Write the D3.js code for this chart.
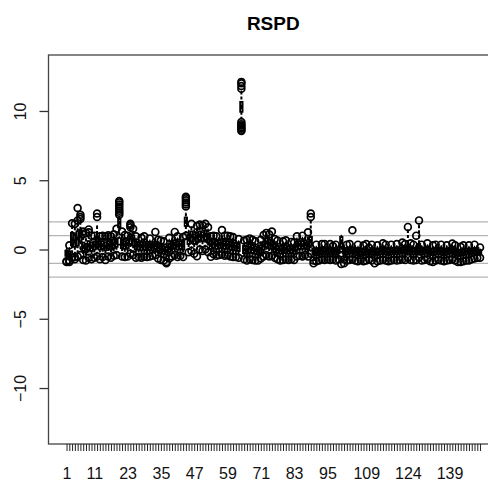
<!DOCTYPE html>
<html>
<head>
<meta charset="utf-8">
<script src="https://cdn.jsdelivr.net/npm/d3@7/dist/d3.min.js"></script>
<style>
  body { margin: 0; background: #fff; }
  svg { display: block; font-family: "Liberation Sans", Arial, sans-serif; }
</style>
</head>
<body>
<div id="chart"></div>
<script>
// boxplot statistics per category (1..150)
var whiskerLow = [
  -0.7, -0.75, -0.3, -0.4, -0.2, 0.0, -0.5, -0.6, -0.4, -0.5,
  -0.4, -0.3, -0.45, -0.4, -0.5, -0.35, -0.4, -0.3, -0.2, 0.9,
  -0.3, -0.35, -0.3, -0.1, -0.2, -0.4, -0.35, -0.4, -0.3, -0.35,
  -0.3, -0.3, -0.25, -0.4, -0.55, -0.6, -0.7, -0.5, -0.3, -0.2,
  -0.35, -0.3, -0.4, 1.2, 0.0, 0.1, -0.1, 0.0, 0.2, 0.1,
  0.2, 0.0, -0.3, -0.2, -0.3, -0.25, -0.2, -0.3, -0.25, -0.35,
  -0.4, -0.35, -0.4, 9.45, -0.55, -0.6, -0.5, -0.55, -0.6, -0.6,
  -0.45, -0.3, -0.2, -0.3, -0.25, -0.45, -0.55, -0.6, -0.55, -0.5,
  -0.55, -0.5, -0.55, -0.3, -0.25, -0.3, -0.2, -0.3, -0.1, -0.6,
  -0.65, -0.6, -0.55, -0.6, -0.55, -0.6, -0.55, -0.6, -0.5, -0.2,
  -0.55, -0.6, -0.55, -0.5, -0.6, -0.65, -0.6, -0.65, -0.6, -0.55,
  -0.6, -0.7, -0.65, -0.6, -0.55, -0.6, -0.65, -0.6, -0.55, -0.6,
  -0.55, -0.5, -0.55, -0.4, -0.55, -0.6, -0.55, -0.4, -0.6, -0.55,
  -0.5, -0.6, -0.65, -0.6, -0.55, -0.6, -0.65, -0.6, -0.55, -0.5,
  -0.6, -0.7, -0.7, -0.65, -0.6, -0.6, -0.55, -0.5, -0.5, -0.45
];
var q1 = [
  -0.45, -0.5, 0.3, 0.2, 0.3, 0.6, -0.1, -0.2, 0.0, -0.1,
  0.0, 0.2, 0.0, 0.05, -0.05, 0.1, 0.0, 0.1, 0.2, 1.6,
  0.1, 0.05, 0.1, 0.4, 0.3, 0.0, 0.0, -0.05, 0.0, -0.05,
  0.0, -0.05, 0.05, -0.1, -0.25, -0.3, -0.35, -0.15, 0.05, 0.1,
  0.0, 0.05, 0.0, 1.7, 0.4, 0.6, 0.4, 0.5, 0.7, 0.6,
  0.7, 0.5, 0.05, 0.15, 0.05, 0.1, 0.15, 0.05, 0.1, 0.0,
  -0.05, -0.05, -0.1, 9.95, -0.25, -0.3, -0.2, -0.25, -0.3, -0.35,
  -0.2, 0.0, 0.2, 0.1, 0.05, -0.15, -0.25, -0.3, -0.25, -0.2,
  -0.3, -0.25, -0.3, 0.0, 0.05, 0.05, 0.1, 0.0, 0.3, -0.35,
  -0.4, -0.35, -0.3, -0.35, -0.3, -0.35, -0.3, -0.35, -0.25, 0.2,
  -0.3, -0.35, -0.3, -0.25, -0.35, -0.4, -0.35, -0.4, -0.35, -0.3,
  -0.35, -0.45, -0.4, -0.35, -0.3, -0.35, -0.4, -0.35, -0.3, -0.35,
  -0.3, -0.25, -0.3, -0.1, -0.3, -0.35, -0.3, -0.1, -0.35, -0.3,
  -0.25, -0.35, -0.4, -0.35, -0.3, -0.35, -0.4, -0.35, -0.3, -0.25,
  -0.35, -0.45, -0.45, -0.4, -0.35, -0.35, -0.3, -0.3, -0.25, -0.3
];
var median = [
  -0.3, -0.35, 0.7, 0.6, 0.8, 1.0, 0.2, 0.1, 0.3, 0.2,
  0.3, 0.5, 0.3, 0.3, 0.2, 0.35, 0.3, 0.4, 0.5, 1.95,
  0.4, 0.35, 0.4, 0.8, 0.7, 0.3, 0.3, 0.25, 0.3, 0.2,
  0.25, 0.2, 0.3, 0.15, 0.0, -0.05, -0.1, 0.1, 0.3, 0.4,
  0.3, 0.35, 0.3, 2.0, 0.75, 0.95, 0.8, 0.9, 1.0, 0.95,
  1.05, 0.85, 0.35, 0.45, 0.35, 0.4, 0.45, 0.35, 0.35, 0.3,
  0.25, 0.2, 0.15, 10.3, 0.0, -0.05, 0.1, 0.05, -0.05, -0.1,
  0.05, 0.3, 0.5, 0.4, 0.35, 0.1, 0.0, -0.05, 0.0, 0.05,
  -0.05, 0.0, -0.05, 0.3, 0.35, 0.3, 0.4, 0.3, 0.6, -0.15,
  -0.2, -0.15, -0.1, -0.15, -0.1, -0.15, -0.1, -0.15, -0.05, 0.55,
  -0.1, -0.15, -0.1, -0.05, -0.15, -0.2, -0.15, -0.2, -0.15, -0.1,
  -0.15, -0.25, -0.2, -0.15, -0.1, -0.15, -0.2, -0.15, -0.1, -0.15,
  -0.1, -0.05, -0.1, 0.1, -0.1, -0.15, -0.1, 0.15, -0.15, -0.1,
  -0.05, -0.15, -0.2, -0.15, -0.1, -0.15, -0.2, -0.15, -0.1, -0.05,
  -0.15, -0.25, -0.25, -0.2, -0.15, -0.15, -0.1, -0.1, -0.05, -0.15
];
var q3 = [
  -0.1, -0.15, 1.2, 1.0, 1.3, 1.4, 0.5, 0.4, 0.6, 0.5,
  0.55, 0.9, 0.55, 0.6, 0.5, 0.6, 0.55, 0.7, 0.8, 2.2,
  0.7, 0.6, 0.65, 1.1, 1.0, 0.55, 0.5, 0.5, 0.55, 0.45,
  0.45, 0.4, 0.55, 0.35, 0.25, 0.2, 0.15, 0.4, 0.55, 0.65,
  0.55, 0.6, 0.55, 2.3, 1.05, 1.3, 1.1, 1.25, 1.3, 1.25,
  1.35, 1.15, 0.6, 0.7, 0.6, 0.65, 0.75, 0.6, 0.6, 0.55,
  0.5, 0.45, 0.4, 10.65, 0.25, 0.25, 0.4, 0.3, 0.2, 0.15,
  0.3, 0.55, 0.8, 0.7, 0.65, 0.35, 0.25, 0.2, 0.25, 0.3,
  0.2, 0.2, 0.15, 0.55, 0.6, 0.6, 0.65, 0.6, 0.9, 0.05,
  0.0, 0.05, 0.1, 0.05, 0.1, 0.05, 0.05, 0.05, 0.15, 0.9,
  0.1, 0.05, 0.05, 0.15, 0.05, 0.0, 0.05, 0.0, 0.05, 0.0,
  0.05, -0.05, 0.0, 0.05, 0.1, 0.05, 0.0, 0.05, 0.1, 0.05,
  0.1, 0.15, 0.1, 0.3, 0.1, 0.05, 0.1, 0.4, 0.05, 0.1,
  0.15, 0.05, 0.0, 0.05, 0.1, 0.05, 0.0, 0.05, 0.1, 0.15,
  0.05, -0.05, -0.05, 0.0, 0.05, 0.0, 0.05, 0.05, 0.1, -0.05
];
var whiskerHigh = [
  0.05, 0.1, 1.7, 1.6, 1.9, 2.0, 0.9, 0.8, 1.0, 0.8,
  0.85, 1.7, 0.8, 0.85, 0.8, 0.8, 0.8, 0.95, 1.2, 2.35,
  1.0, 0.9, 0.9, 1.45, 1.3, 0.8, 0.75, 0.7, 0.8, 0.7,
  0.65, 0.6, 0.8, 0.55, 0.5, 0.45, 0.4, 0.7, 0.8, 0.9,
  0.8, 0.85, 0.75, 2.6, 1.35, 1.6, 1.4, 1.55, 1.6, 1.55,
  1.65, 1.45, 0.8, 0.9, 0.8, 0.85, 1.0, 0.85, 0.8, 0.8,
  0.75, 0.7, 0.6, 11.4, 0.5, 0.55, 0.65, 0.55, 0.45, 0.35,
  0.55, 0.85, 1.0, 0.95, 0.9, 0.6, 0.5, 0.45, 0.5, 0.5,
  0.4, 0.4, 0.35, 0.8, 0.85, 0.85, 0.9, 0.9, 2.1, 0.25,
  0.2, 0.3, 0.3, 0.25, 0.3, 0.25, 0.15, 0.25, 0.3, 1.0,
  0.3, 0.2, 0.25, 0.35, 0.25, 0.2, 0.25, 0.2, 0.25, 0.0,
  0.25, 0.15, 0.2, 0.25, 0.3, 0.25, 0.2, 0.25, 0.3, 0.25,
  0.3, 0.35, 0.3, 1.4, 0.3, 0.25, 0.3, 1.75, 0.25, 0.3,
  0.3, 0.25, 0.2, 0.25, 0.3, 0.25, 0.2, 0.25, 0.3, 0.3,
  0.25, 0.15, 0.1, 0.2, 0.2, 0.2, 0.25, 0.2, 0.25, 0.0
];
var outliers = [
  [-0.85, -0.9], [-0.9, 0.3, -0.8], [1.9, -0.6], [1.85, -0.7, -0.55], [3.0, -0.5, 2.1],
  [2.2, 2.35, 2.5, -0.4], [1.3, -0.75, 1.1], [1.2, -0.8], [1.45, 1.25, -0.6], [-0.7, 1.0],
  [-0.6, 1.0], [2.35, 2.6, -0.5], [-0.7, 0.95], [-0.55, 1.0], [-0.75, 0.95],
  [1.03, -0.5], [-0.6, 0.95], [-0.45, 1.1], [1.5, -0.4], [2.5, 2.65, 2.8, 2.95, 3.1, 3.25, 3.4, 3.5, 0.6],
  [1.3, -0.5], [-0.55, 1.05], [-0.5, 1.0], [1.6, 1.75, 1.85, -0.3], [1.5, -0.4],
  [-0.6, 0.95], [-0.55], [-0.6, 0.85], [-0.5, 0.95], [-0.55],
  [-0.5, 0.8], [-0.45], [1.27, -0.4], [-0.65, 0.7], [-0.75, 0.65],
  [-0.8, 0.6], [-0.9, -1.0], [-0.65, 0.85], [-0.5], [1.27, -0.4],
  [-0.55, 0.95], [-0.45], [-0.55, 0.9], [3.1, 3.25, 3.4, 3.55, 3.7, 3.8, 1.0], [-0.2],
  [1.85, -0.1], [-0.3], [1.7, -0.48], [1.8, 0.0], [1.75, -0.1],
  [1.85, 0.0], [1.6, -0.2], [-0.53, 0.95], [1.0, -0.35], [-0.45, 0.95],
  [-0.4], [1.4, -0.35], [-0.45, 1.0], [-0.4, 1.0], [-0.5, 0.95],
  [-0.55, 0.9], [-0.55], [-0.6, 0.75], [11.6, 11.8, 12.0, 12.1, 9.2, 9.05, 8.95, 8.85, 8.75, 8.65, 8.55], [-0.7, 0.65],
  [0.7, -0.8], [0.8, -0.7], [-0.75, 0.7], [-0.8, 0.6], [-0.8],
  [-0.65, 0.7], [1.05, -0.5], [1.2, -0.4], [1.1, -0.5], [1.3, -0.45],
  [-0.6, 0.75], [-0.7, 0.65], [-0.8], [-0.75, 0.6], [0.67, -0.7],
  [-0.75], [-0.7, 0.55], [-0.75, 0.5], [-0.5, 0.95], [-0.45],
  [-0.5, 1.0], [-0.4], [1.25, -0.5], [2.35, 2.6, -0.3], [-0.8, -1.0],
  [-0.85, 0.35], [-0.8], [-0.7, 0.4], [-0.75, 0.4], [-0.7],
  [-0.75, 0.4], [0.25, -0.7], [-0.8, 0.35], [-0.7], [-0.4, -1.05],
  [-0.7, -1.0], [-0.8, 0.35], [-0.75, 0.4], [1.39, -0.7], [-0.8],
  [-0.85, 0.35], [-0.75], [-0.85, 0.3], [-0.8, 0.4], [0.12, -0.7],
  [-0.8, 0.35], [-1.0], [-0.85, 0.3], [-0.8], [-0.75, 0.45],
  [-0.8, 0.35], [-0.85], [-0.8, 0.35], [-0.75], [-0.8, 0.4],
  [-0.75], [-0.7, 0.5], [-0.75, 0.4], [1.63, -0.6], [0.45, -0.75],
  [-0.8, 0.35], [1.0, -0.75], [2.1, -0.6], [-0.8, 0.35], [-0.75],
  [0.45, -0.7], [-0.85], [-0.9, 0.3], [-0.8, 0.35], [-0.75],
  [-0.8, 0.35], [-0.85], [-0.8, 0.3], [-0.75], [0.43, -0.7],
  [-0.8, 0.3], [-0.9], [-0.9, 0.2], [-0.85, 0.3], [-0.8],
  [-0.8, 0.3], [-0.7], [-0.65, 0.35], [-0.6], [0.15, -0.6]
];
var xTickLabels = [1, 11, 23, 35, 47, 59, 71, 83, 95, 109, 124, 139];
var yTicks = [-10, -5, 0, 5, 10];
var refLines = [-2, -1, 1, 2];
var title = "RSPD";

var n = median.length;
var categories = d3.range(1, n + 1);

var W = 488, H = 486;
var margin = { left: 48.5, top: 55 };
var plotW = 449.6, plotH = 389;

var svg = d3.select("#chart").append("svg")
  .attr("width", W)
  .attr("height", H);

// R style ranges: 0.5..n+0.5 widened by 4%
var x = d3.scaleLinear()
  .domain([0.5 - 0.04 * n, n + 0.5 + 0.04 * n])
  .range([margin.left, margin.left + plotW]);
var y = d3.scaleLinear()
  .domain([-14.04, 14.04])
  .range([margin.top + plotH, margin.top]);

var g = svg.append("g");

// grey reference lines
g.selectAll(".ref")
  .data(refLines)
  .enter().append("line")
  .attr("x1", margin.left).attr("x2", margin.left + plotW)
  .attr("y1", function (d) { return y(d); })
  .attr("y2", function (d) { return y(d); })
  .attr("stroke", "#b4b4b4")
  .attr("stroke-width", 1.3);

var half = 0.4, staple = 0.2;
var lw = 2;

var boxes = g.selectAll(".box")
  .data(categories)
  .enter().append("g")
  .attr("class", "box");

// whiskers (dashed)
boxes.append("line")
  .attr("x1", function (d) { return x(d); })
  .attr("x2", function (d) { return x(d); })
  .attr("y1", function (d) { return y(whiskerHigh[d - 1]); })
  .attr("y2", function (d) { return y(q3[d - 1]); })
  .attr("stroke", "#000").attr("stroke-width", lw).attr("stroke-dasharray", "3,2");
boxes.append("line")
  .attr("x1", function (d) { return x(d); })
  .attr("x2", function (d) { return x(d); })
  .attr("y1", function (d) { return y(q1[d - 1]); })
  .attr("y2", function (d) { return y(whiskerLow[d - 1]); })
  .attr("stroke", "#000").attr("stroke-width", lw).attr("stroke-dasharray", "3,2");

// staples
boxes.append("line")
  .attr("x1", function (d) { return x(d - staple); })
  .attr("x2", function (d) { return x(d + staple); })
  .attr("y1", function (d) { return y(whiskerHigh[d - 1]); })
  .attr("y2", function (d) { return y(whiskerHigh[d - 1]); })
  .attr("stroke", "#000").attr("stroke-width", lw);
boxes.append("line")
  .attr("x1", function (d) { return x(d - staple); })
  .attr("x2", function (d) { return x(d + staple); })
  .attr("y1", function (d) { return y(whiskerLow[d - 1]); })
  .attr("y2", function (d) { return y(whiskerLow[d - 1]); })
  .attr("stroke", "#000").attr("stroke-width", lw);

// box
boxes.append("rect")
  .attr("x", function (d) { return x(d - half); })
  .attr("width", x(1 + half) - x(1 - half))
  .attr("y", function (d) { return y(q3[d - 1]); })
  .attr("height", function (d) { return y(q1[d - 1]) - y(q3[d - 1]); })
  .attr("fill", "none")
  .attr("stroke", "#000")
  .attr("stroke-width", lw);

// median
boxes.append("line")
  .attr("x1", function (d) { return x(d - half); })
  .attr("x2", function (d) { return x(d + half); })
  .attr("y1", function (d) { return y(median[d - 1]); })
  .attr("y2", function (d) { return y(median[d - 1]); })
  .attr("stroke", "#000")
  .attr("stroke-width", 4);

// outliers
boxes.selectAll("circle")
  .data(function (d) {
    return outliers[d - 1].map(function (v) { return { c: d, v: v }; });
  })
  .enter().append("circle")
  .attr("cx", function (o) { return x(o.c); })
  .attr("cy", function (o) { return y(o.v); })
  .attr("r", 3.4)
  .attr("fill", "none")
  .attr("stroke", "#000")
  .attr("stroke-width", 1.7);

// frame
svg.append("rect")
  .attr("x", margin.left).attr("y", margin.top)
  .attr("width", plotW).attr("height", plotH)
  .attr("fill", "none")
  .attr("stroke", "#444")
  .attr("stroke-width", 1.3);

// x axis
var labelled = new Set(xTickLabels);
var xAxis = svg.append("g")
  .attr("transform", "translate(0," + (margin.top + plotH) + ")")
  .call(d3.axisBottom(x).tickValues(categories).tickSize(7)
    .tickFormat(function (d) { return labelled.has(d) ? d : ""; }));
xAxis.select(".domain").remove();
xAxis.selectAll("line").attr("stroke", "#222");
xAxis.selectAll("text")
  .attr("y", 24)
  .attr("fill", "#111")
  .style("font-size", "16px")
  .style("font-family", "'Liberation Sans', Arial, sans-serif");

// y axis
var yAxis = svg.append("g")
  .attr("transform", "translate(" + margin.left + ",0)")
  .call(d3.axisLeft(y).tickValues(yTicks).tickSize(9));
yAxis.select(".domain").remove();
yAxis.selectAll("line").attr("stroke", "#333").attr("stroke-width", 1.3);
yAxis.selectAll("text")
  .attr("x", null).attr("dy", null)
  .attr("transform", "translate(-23,0) rotate(-90)")
  .attr("text-anchor", "middle")
  .attr("fill", "#111")
  .style("font-size", "16px")
  .style("font-family", "'Liberation Sans', Arial, sans-serif");

// title
svg.append("text")
  .attr("x", margin.left + plotW / 2)
  .attr("y", 30)
  .attr("text-anchor", "middle")
  .style("font-size", "19px")
  .style("font-weight", "bold")
  .text(title);
</script>
</body>
</html>
